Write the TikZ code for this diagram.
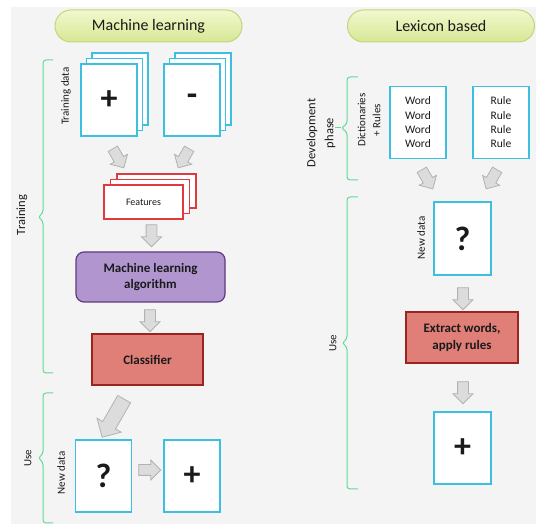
\documentclass[tikz,border=0pt]{standalone}
\usepackage{fontspec}
\setmainfont{Carlito}
\usetikzlibrary{shapes.arrows,shadows}
\definecolor{bggrey}{HTML}{F4F4F4}
\definecolor{textdark}{HTML}{1A1A1A}
\definecolor{pilltop}{HTML}{F2F8CE}
\definecolor{pillbot}{HTML}{D6E894}
\definecolor{pillborder}{HTML}{BFD77A}
\definecolor{pagecyan}{HTML}{3CBFE0}
\definecolor{featred}{HTML}{E03A3E}
\definecolor{algofill}{HTML}{B195CF}
\definecolor{algoborder}{HTML}{5F3A7F}
\definecolor{clsfill}{HTML}{E07E78}
\definecolor{clsborder}{HTML}{9A2520}
\definecolor{arrowfill}{HTML}{DCDCDC}
\definecolor{arrowborder}{HTML}{B2B2B2}
\definecolor{bracegreen}{HTML}{5EDC96}
\tikzset{
  title/.style={draw=pillborder, line width=1pt, rounded corners=16pt,
    top color=pilltop, bottom color=pillbot, text=textdark,
    minimum width=187pt, minimum height=32pt, font=\fontsize{16}{18}\selectfont},
  page/.style={draw=pagecyan, line width=1.3pt, fill=white, inner sep=0pt,
    minimum width=56pt, minimum height=72pt, text=textdark},
  pagestack/.style={page,
    copy shadow={shadow xshift=11pt, shadow yshift=11pt, draw=pagecyan, line width=1.3pt, fill=white},
    copy shadow={shadow xshift=5.5pt, shadow yshift=5.5pt, draw=pagecyan, line width=1.3pt, fill=white}},
  sign/.style={font=\fontsize{34}{36}\selectfont\bfseries},
  featstack/.style={draw=featred, line width=1.2pt, fill=white, inner sep=0pt,
    minimum width=79pt, minimum height=34pt, font=\fontsize{10}{12}\selectfont, text=textdark,
    copy shadow={shadow xshift=13pt, shadow yshift=11pt, draw=featred, line width=1.2pt, fill=white},
    copy shadow={shadow xshift=6.5pt, shadow yshift=5.5pt, draw=featred, line width=1.2pt, fill=white}},
  algo/.style={draw=algoborder, line width=1.2pt, fill=algofill, rounded corners=8pt,
    minimum width=149pt, minimum height=50pt, align=center, text=textdark,
    font=\fontsize{13}{16}\selectfont\bfseries},
  redbox/.style={draw=clsborder, line width=1.2pt, fill=clsfill,
    minimum width=111pt, minimum height=51pt, align=center, text=textdark,
    font=\fontsize{13}{16.5}\selectfont\bfseries},
  blockarrow/.style={single arrow, draw=arrowborder, fill=arrowfill, line width=0.8pt,
    inner sep=5pt, single arrow head extend=4.5pt, minimum height=22pt},
  bigarrow/.style={blockarrow, inner sep=7pt, single arrow head extend=6.5pt, minimum height=44pt},
  sidelabel/.style={rotate=90, inner sep=0pt, text=textdark, font=\fontsize{11}{15}\selectfont, align=center},
  bracket/.style={draw=bracegreen, line width=1pt, rounded corners=3pt}
}
\begin{document}
\begin{tikzpicture}[x=1pt,y=-1pt]
  \useasboundingbox (0,0) rectangle (536,526);
  %% background
  \fill[bggrey] (11,7) rectangle (536,524);
  %% titles
  \node[title] (mltitle) at (148.5,26) {Machine learning};
  \node[title] (lextitle) at (441,26) {Lexicon based};

  %% machine learning: training
  \node[pagestack,sign] (plusdata) at (109,100) {+};
  \node[pagestack,sign] (minusdata) at (192,100) {-};
  \node[sidelabel] (trainlabel) at (66,96) {Training data};
  \node[blockarrow,rotate=-60] (arrplus) at (117,156) {};
  \node[blockarrow,rotate=-120] (arrminus) at (185,156) {};
  \node[featstack] (features) at (143.5,202) {Features};
  \node[blockarrow,rotate=-90] (arrfeat) at (151.5,233) {};
  \node[algo] (mlalgo) at (150.5,277) {Machine learning\\algorithm};
  \node[blockarrow,rotate=-90] (arralgo) at (150,318) {};
  \node[redbox] (classifier) at (147.5,359.5) {Classifier};

  %% machine learning: use
  \node[bigarrow,rotate=-120] (arrcls) at (115,415) {};
  \node[page,sign] (newq) at (103.5,476) {?};
  \node[blockarrow] (arrnew) at (147,470) {};
  \node[page,sign] (newplus) at (192,476) {+};
  \node[sidelabel] (newlabel) at (61,473) {New data};

  %% braces, left
  \draw[bracket] (53,60) -- (43,60) -- (43,213) -- (38,217) -- (43,221) -- (43,373) -- (53,373);
  \node[sidelabel,font=\fontsize{12.5}{15}\selectfont] (traininglabel) at (22,215) {Training};
  \draw[bracket] (53,393) -- (43,393) -- (43,454) -- (38,458) -- (43,462) -- (43,523) -- (53,523);
  \node[sidelabel] (uselabel) at (28,458) {Use};

  %% lexicon: development
  \node[page,font=\fontsize{11.5}{14.3}\selectfont,align=center] (words) at (418,122.5) {Word\\Word\\Word\\Word};
  \node[page,font=\fontsize{11.5}{14.3}\selectfont,align=center] (rules) at (501,122.5) {Rule\\Rule\\Rule\\Rule};
  \node[sidelabel] (dictlabel) at (369,120) {Dictionaries\\+ Rules};
  \draw[bracket] (358,77) -- (347,77) -- (347,124) -- (341,128) -- (347,132) -- (347,180) -- (358,180);
  \draw[bracegreen,line width=1pt] (341,128) -- (335,128);
  \node[sidelabel,font=\fontsize{12.5}{18}\selectfont] (devlabel) at (321,133) {Development\\phase};
  \node[blockarrow,rotate=-60] (arrwords) at (426,177) {};
  \node[blockarrow,rotate=-120] (arrrules) at (493,177) {};

  %% lexicon: use
  \node[page,sign,minimum width=57pt,minimum height=73pt] (lexq) at (462.5,238.5) {?};
  \node[sidelabel] (lexnewlabel) at (421,238) {New data};
  \node[blockarrow,rotate=-90] (arrlexq) at (463,296) {};
  \node[redbox,minimum width=112pt] (extract) at (462,337.5) {Extract words,\\apply rules};
  \node[blockarrow,rotate=-90] (arrextract) at (463,390) {};
  \node[page,sign,minimum width=57pt] (lexplus) at (462.5,448) {+};
  \draw[bracket] (358,197) -- (347,197) -- (347,339) -- (342,343) -- (347,347) -- (347,489) -- (358,489);
  \node[sidelabel] (lexuselabel) at (333,343) {Use};
\end{tikzpicture}
\end{document}
